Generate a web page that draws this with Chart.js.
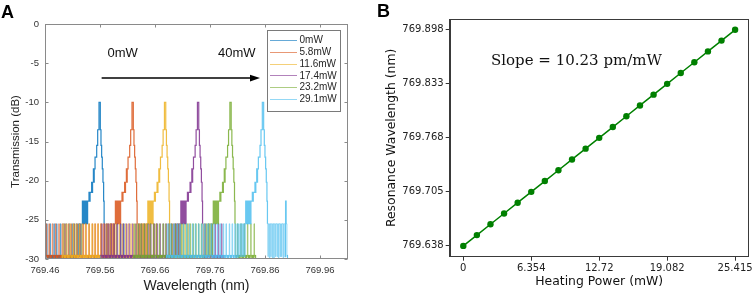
<!DOCTYPE html>
<html><head><meta charset="utf-8">
<script src="https://cdn.jsdelivr.net/npm/chart.js@4.4.0/dist/chart.umd.min.js"></script>
<style>
html,body{margin:0;padding:0;background:#fff;}
#wrap{position:relative;width:754px;height:296px;overflow:hidden;background:#fff;}
canvas{position:absolute;top:0;}
</style>
</head><body>
<div id="wrap"><canvas id="ca" width="377" height="296" style="left:0"></canvas><canvas id="cb" width="377" height="296" style="left:377px"></canvas></div>
<script>
// ---------------- Panel A data ----------------
const powerLabels = ['0mW', '5.8mW', '11.6mW', '17.4mW', '23.2mW', '29.1mW'];
const wavelengthTicks = [769.46, 769.56, 769.66, 769.76, 769.86, 769.96];
const transmissionTicks = [0, -5, -10, -15, -20, -25, -30];

const spec0mW = [
[769.4600,-29.7],
[769.4630,-29.7],[769.4630,-25.5],[769.4640,-29.7],
[769.4690,-29.7],[769.4690,-25.5],[769.4700,-29.7],
[769.4760,-29.7],[769.4760,-25.5],[769.4772,-29.7],
[769.4810,-29.7],[769.4810,-25.5],[769.4820,-29.7],
[769.4880,-29.7],[769.4880,-25.5],[769.4890,-29.7],
[769.4940,-29.7],[769.4940,-25.5],[769.4952,-29.7],
[769.4980,-29.7],[769.4980,-25.5],[769.4990,-29.7],
[769.5040,-29.7],[769.5040,-25.5],[769.5050,-29.7],
[769.5090,-29.7],[769.5090,-25.5],[769.5100,-29.7],
[769.5130,-29.7],[769.5130,-25.5],[769.5140,-29.7],
[769.5170,-29.7],[769.5170,-25.5],[769.5180,-29.7],
[769.5200,-25.5],[769.5210,-29.7],[769.5220,-25.5],[769.5235,-29.7],[769.5245,-25.5],[769.5260,-29.7],[769.5270,-25.5],
[769.5280,-22.6],[769.5290,-25.5],[769.5300,-22.6],[769.5315,-25.5],[769.5325,-22.6],[769.5340,-25.5],[769.5350,-22.6],[769.5370,-25.5],[769.5375,-22.6],
[769.5400,-21.5],[769.5415,-22.6],[769.5420,-21.5],
[769.5448,-20.2],[769.5460,-21.5],[769.5465,-20.2],
[769.5480,-18.5],[769.5490,-20.2],[769.5495,-18.5],
[769.5510,-17.0],[769.5540,-15.5],[769.5558,-13.5],[769.5582,-10.0],
[769.5606,-13.5],[769.5618,-15.5],[769.5630,-17.0],[769.5642,-18.5],[769.5654,-20.2],[769.5666,-22.6],[769.5675,-25.5],[769.5685,-29.7],
[769.5720,-29.7],[769.5720,-25.5],[769.5730,-29.7],
[769.5780,-29.7],[769.5780,-25.5],[769.5790,-29.7],
[769.5850,-29.7],[769.5850,-25.5],[769.5860,-29.7],
[769.5900,-29.7],[769.5900,-25.5],[769.5910,-29.7],
[769.5970,-29.7],[769.5970,-25.5],[769.5980,-29.7],
[769.6030,-29.7],[769.6030,-25.5],[769.6040,-29.7],
[769.6060,-29.7]
];

const spec5p8mW = [
[769.4600,-29.7],
[769.4620,-29.7],[769.4620,-25.5],[769.4630,-29.7],
[769.4670,-29.7],[769.4670,-25.5],[769.4680,-29.7],
[769.4730,-29.7],[769.4730,-25.5],[769.4742,-29.7],
[769.4790,-29.7],[769.4790,-25.5],[769.4800,-29.7],
[769.4850,-29.7],[769.4850,-25.5],[769.4860,-29.7],
[769.4910,-29.7],[769.4910,-25.5],[769.4922,-29.7],
[769.4960,-29.7],[769.4960,-25.5],[769.4970,-29.7],
[769.5020,-29.7],[769.5020,-25.5],[769.5030,-29.7],
[769.5070,-29.7],[769.5070,-25.5],[769.5080,-29.7],
[769.5120,-29.7],[769.5120,-25.5],[769.5132,-29.7],
[769.5180,-29.7],[769.5180,-25.5],[769.5190,-29.7],
[769.5230,-29.7],[769.5230,-25.5],[769.5240,-29.7],
[769.5290,-29.7],[769.5290,-25.5],[769.5300,-29.7],
[769.5340,-29.7],[769.5340,-25.5],[769.5352,-29.7],
[769.5400,-29.7],[769.5400,-25.5],[769.5410,-29.7],
[769.5460,-29.7],[769.5460,-25.5],[769.5470,-29.7],
[769.5510,-29.7],[769.5510,-25.5],[769.5520,-29.7],
[769.5560,-29.7],[769.5560,-25.5],[769.5570,-29.7],
[769.5610,-29.7],[769.5610,-25.5],[769.5622,-29.7],
[769.5660,-29.7],[769.5660,-25.5],[769.5670,-29.7],
[769.5710,-29.7],[769.5710,-25.5],[769.5720,-29.7],
[769.5750,-29.7],[769.5750,-25.5],[769.5760,-29.7],
[769.5780,-25.5],[769.5790,-29.7],[769.5800,-25.5],[769.5815,-29.7],[769.5825,-25.5],[769.5840,-29.7],[769.5850,-25.5],[769.5860,-29.7],[769.5870,-25.5],
[769.5880,-22.6],[769.5890,-25.5],[769.5900,-22.6],[769.5915,-25.5],[769.5925,-22.6],[769.5945,-25.5],[769.5950,-22.6],[769.5970,-25.5],[769.5975,-22.6],
[769.6000,-21.5],[769.6012,-22.6],[769.6018,-21.5],
[769.6048,-20.2],[769.6058,-21.5],[769.6064,-20.2],
[769.6080,-18.5],[769.6090,-20.2],[769.6095,-18.5],
[769.6110,-17.0],[769.6140,-15.5],[769.6158,-13.5],[769.6182,-10.0],
[769.6206,-13.5],[769.6218,-15.5],[769.6230,-17.0],[769.6242,-18.5],[769.6254,-20.2],[769.6266,-22.6],[769.6275,-25.5],[769.6285,-29.7],
[769.6320,-29.7],[769.6320,-25.5],[769.6330,-29.7],
[769.6380,-29.7],[769.6380,-25.5],[769.6390,-29.7],
[769.6440,-29.7],[769.6440,-25.5],[769.6450,-29.7],
[769.6500,-29.7],[769.6500,-25.5],[769.6510,-29.7],
[769.6570,-29.7],[769.6570,-25.5],[769.6580,-29.7],
[769.6620,-29.7],[769.6620,-25.5],[769.6630,-29.7],
[769.6660,-29.7]
];

const spec11p6mW = [
[769.4900,-29.7],
[769.4930,-29.7],[769.4930,-25.5],[769.4940,-29.7],
[769.4990,-29.7],[769.4990,-25.5],[769.5000,-29.7],
[769.5050,-29.7],[769.5050,-25.5],[769.5062,-29.7],
[769.5110,-29.7],[769.5110,-25.5],[769.5120,-29.7],
[769.5160,-29.7],[769.5160,-25.5],[769.5170,-29.7],
[769.5220,-29.7],[769.5220,-25.5],[769.5232,-29.7],
[769.5270,-29.7],[769.5270,-25.5],[769.5280,-29.7],
[769.5330,-29.7],[769.5330,-25.5],[769.5340,-29.7],
[769.5390,-29.7],[769.5390,-25.5],[769.5400,-29.7],
[769.5450,-29.7],[769.5450,-25.5],[769.5462,-29.7],
[769.5500,-29.7],[769.5500,-25.5],[769.5510,-29.7],
[769.5560,-29.7],[769.5560,-25.5],[769.5570,-29.7],
[769.5620,-29.7],[769.5620,-25.5],[769.5630,-29.7],
[769.5680,-29.7],[769.5680,-25.5],[769.5692,-29.7],
[769.5730,-29.7],[769.5730,-25.5],[769.5740,-29.7],
[769.5790,-29.7],[769.5790,-25.5],[769.5800,-29.7],
[769.5840,-29.7],[769.5840,-25.5],[769.5850,-29.7],
[769.5890,-29.7],[769.5890,-25.5],[769.5902,-29.7],
[769.5950,-29.7],[769.5950,-25.5],[769.5960,-29.7],
[769.6000,-29.7],[769.6000,-25.5],[769.6010,-29.7],
[769.6060,-29.7],[769.6060,-25.5],[769.6070,-29.7],
[769.6110,-29.7],[769.6110,-25.5],[769.6122,-29.7],
[769.6160,-29.7],[769.6160,-25.5],[769.6170,-29.7],
[769.6210,-29.7],[769.6210,-25.5],[769.6220,-29.7],
[769.6260,-29.7],[769.6260,-25.5],[769.6270,-29.7],
[769.6310,-29.7],[769.6310,-25.5],[769.6320,-29.7],
[769.6345,-29.7],[769.6345,-25.5],[769.6355,-29.7],
[769.6370,-25.5],[769.6380,-29.7],[769.6390,-25.5],[769.6405,-29.7],[769.6415,-25.5],[769.6430,-29.7],[769.6440,-25.5],[769.6455,-29.7],[769.6460,-25.5],
[769.6470,-22.6],[769.6480,-25.5],[769.6490,-22.6],[769.6505,-25.5],[769.6515,-22.6],[769.6535,-25.5],[769.6540,-22.6],[769.6560,-25.5],[769.6565,-22.6],
[769.6590,-21.5],[769.6602,-22.6],[769.6608,-21.5],
[769.6638,-20.2],[769.6648,-21.5],[769.6654,-20.2],
[769.6670,-18.5],[769.6680,-20.2],[769.6685,-18.5],
[769.6700,-17.0],[769.6730,-15.5],[769.6748,-13.5],[769.6772,-10.0],
[769.6796,-13.5],[769.6808,-15.5],[769.6820,-17.0],[769.6832,-18.5],[769.6844,-20.2],[769.6856,-22.6],[769.6865,-25.5],[769.6875,-29.7],
[769.6910,-29.7],[769.6910,-25.5],[769.6920,-29.7],
[769.6970,-29.7],[769.6970,-25.5],[769.6980,-29.7],
[769.7030,-29.7],[769.7030,-25.5],[769.7040,-29.7],
[769.7090,-29.7],[769.7090,-25.5],[769.7100,-29.7],
[769.7150,-29.7],[769.7150,-25.5],[769.7160,-29.7],
[769.7210,-29.7],[769.7210,-25.5],[769.7220,-29.7],
[769.7250,-29.7]
];

const spec17p4mW = [
[769.5600,-29.7],
[769.5630,-29.7],[769.5630,-25.5],[769.5640,-29.7],
[769.5680,-29.7],[769.5680,-25.5],[769.5690,-29.7],
[769.5740,-29.7],[769.5740,-25.5],[769.5752,-29.7],
[769.5800,-29.7],[769.5800,-25.5],[769.5810,-29.7],
[769.5850,-29.7],[769.5850,-25.5],[769.5860,-29.7],
[769.5910,-29.7],[769.5910,-25.5],[769.5922,-29.7],
[769.5970,-29.7],[769.5970,-25.5],[769.5980,-29.7],
[769.6020,-29.7],[769.6020,-25.5],[769.6030,-29.7],
[769.6080,-29.7],[769.6080,-25.5],[769.6090,-29.7],
[769.6130,-29.7],[769.6130,-25.5],[769.6142,-29.7],
[769.6190,-29.7],[769.6190,-25.5],[769.6200,-29.7],
[769.6250,-29.7],[769.6250,-25.5],[769.6260,-29.7],
[769.6300,-29.7],[769.6300,-25.5],[769.6310,-29.7],
[769.6350,-29.7],[769.6350,-25.5],[769.6362,-29.7],
[769.6410,-29.7],[769.6410,-25.5],[769.6420,-29.7],
[769.6470,-29.7],[769.6470,-25.5],[769.6480,-29.7],
[769.6520,-29.7],[769.6520,-25.5],[769.6530,-29.7],
[769.6580,-29.7],[769.6580,-25.5],[769.6592,-29.7],
[769.6640,-29.7],[769.6640,-25.5],[769.6650,-29.7],
[769.6690,-29.7],[769.6690,-25.5],[769.6700,-29.7],
[769.6750,-29.7],[769.6750,-25.5],[769.6760,-29.7],
[769.6800,-29.7],[769.6800,-25.5],[769.6812,-29.7],
[769.6850,-29.7],[769.6850,-25.5],[769.6860,-29.7],
[769.6900,-29.7],[769.6900,-25.5],[769.6910,-29.7],
[769.6940,-29.7],[769.6940,-25.5],[769.6950,-29.7],
[769.6970,-25.5],[769.6980,-29.7],[769.6990,-25.5],[769.7005,-29.7],[769.7015,-25.5],[769.7030,-29.7],[769.7040,-25.5],[769.7055,-29.7],[769.7060,-25.5],
[769.7070,-22.6],[769.7080,-25.5],[769.7090,-22.6],[769.7105,-25.5],[769.7115,-22.6],[769.7135,-25.5],[769.7140,-22.6],[769.7160,-25.5],[769.7165,-22.6],
[769.7190,-21.5],[769.7202,-22.6],[769.7208,-21.5],
[769.7238,-20.2],[769.7248,-21.5],[769.7254,-20.2],
[769.7270,-18.5],[769.7280,-20.2],[769.7285,-18.5],
[769.7300,-17.0],[769.7330,-15.5],[769.7348,-13.5],[769.7372,-10.0],
[769.7396,-13.5],[769.7408,-15.5],[769.7420,-17.0],[769.7432,-18.5],[769.7444,-20.2],[769.7456,-22.6],[769.7465,-25.5],[769.7475,-29.7],
[769.7510,-29.7],[769.7510,-25.5],[769.7520,-29.7],
[769.7570,-29.7],[769.7570,-25.5],[769.7580,-29.7],
[769.7630,-29.7],[769.7630,-25.5],[769.7640,-29.7],
[769.7690,-29.7],[769.7690,-25.5],[769.7700,-29.7],
[769.7750,-29.7],[769.7750,-25.5],[769.7760,-29.7],
[769.7810,-29.7],[769.7810,-25.5],[769.7820,-29.7],
[769.7850,-29.7]
];

const spec23p2mW = [
[769.6200,-29.7],
[769.6230,-29.7],[769.6230,-25.5],[769.6240,-29.7],
[769.6290,-29.7],[769.6290,-25.5],[769.6300,-29.7],
[769.6340,-29.7],[769.6340,-25.5],[769.6352,-29.7],
[769.6400,-29.7],[769.6400,-25.5],[769.6410,-29.7],
[769.6460,-29.7],[769.6460,-25.5],[769.6470,-29.7],
[769.6510,-29.7],[769.6510,-25.5],[769.6522,-29.7],
[769.6570,-29.7],[769.6570,-25.5],[769.6580,-29.7],
[769.6620,-29.7],[769.6620,-25.5],[769.6630,-29.7],
[769.6680,-29.7],[769.6680,-25.5],[769.6690,-29.7],
[769.6740,-29.7],[769.6740,-25.5],[769.6752,-29.7],
[769.6790,-29.7],[769.6790,-25.5],[769.6800,-29.7],
[769.6850,-29.7],[769.6850,-25.5],[769.6860,-29.7],
[769.6900,-29.7],[769.6900,-25.5],[769.6910,-29.7],
[769.6960,-29.7],[769.6960,-25.5],[769.6972,-29.7],
[769.7010,-29.7],[769.7010,-25.5],[769.7020,-29.7],
[769.7070,-29.7],[769.7070,-25.5],[769.7080,-29.7],
[769.7120,-29.7],[769.7120,-25.5],[769.7130,-29.7],
[769.7180,-29.7],[769.7180,-25.5],[769.7192,-29.7],
[769.7240,-29.7],[769.7240,-25.5],[769.7250,-29.7],
[769.7290,-29.7],[769.7290,-25.5],[769.7300,-29.7],
[769.7340,-29.7],[769.7340,-25.5],[769.7350,-29.7],
[769.7390,-29.7],[769.7390,-25.5],[769.7402,-29.7],
[769.7440,-29.7],[769.7440,-25.5],[769.7450,-29.7],
[769.7490,-29.7],[769.7490,-25.5],[769.7500,-29.7],
[769.7530,-29.7],[769.7530,-25.5],[769.7540,-29.7],
[769.7560,-25.5],[769.7570,-29.7],[769.7580,-25.5],[769.7595,-29.7],[769.7605,-25.5],[769.7620,-29.7],[769.7630,-25.5],[769.7645,-29.7],[769.7650,-25.5],
[769.7660,-22.6],[769.7670,-25.5],[769.7680,-22.6],[769.7695,-25.5],[769.7705,-22.6],[769.7725,-25.5],[769.7730,-22.6],[769.7750,-25.5],[769.7755,-22.6],
[769.7780,-21.5],[769.7792,-22.6],[769.7798,-21.5],
[769.7828,-20.2],[769.7838,-21.5],[769.7844,-20.2],
[769.7860,-18.5],[769.7870,-20.2],[769.7875,-18.5],
[769.7890,-17.0],[769.7920,-15.5],[769.7938,-13.5],[769.7962,-10.0],
[769.7986,-13.5],[769.7998,-15.5],[769.8010,-17.0],[769.8022,-18.5],[769.8034,-20.2],[769.8046,-22.6],[769.8055,-25.5],[769.8065,-29.7],
[769.8100,-29.7],[769.8100,-25.5],[769.8110,-29.7],
[769.8160,-29.7],[769.8160,-25.5],[769.8170,-29.7],
[769.8220,-29.7],[769.8220,-25.5],[769.8230,-29.7],
[769.8280,-29.7],[769.8280,-25.5],[769.8290,-29.7],
[769.8340,-29.7],[769.8340,-25.5],[769.8350,-29.7],
[769.8400,-29.7],[769.8400,-25.5],[769.8410,-29.7],
[769.8440,-29.7]
];

const spec29p1mW = [
[769.6800,-29.7],
[769.6830,-29.7],[769.6830,-25.5],[769.6840,-29.7],
[769.6880,-29.7],[769.6880,-25.5],[769.6890,-29.7],
[769.6940,-29.7],[769.6940,-25.5],[769.6952,-29.7],
[769.7000,-29.7],[769.7000,-25.5],[769.7010,-29.7],
[769.7050,-29.7],[769.7050,-25.5],[769.7060,-29.7],
[769.7110,-29.7],[769.7110,-25.5],[769.7122,-29.7],
[769.7170,-29.7],[769.7170,-25.5],[769.7180,-29.7],
[769.7220,-29.7],[769.7220,-25.5],[769.7230,-29.7],
[769.7280,-29.7],[769.7280,-25.5],[769.7290,-29.7],
[769.7330,-29.7],[769.7330,-25.5],[769.7342,-29.7],
[769.7390,-29.7],[769.7390,-25.5],[769.7400,-29.7],
[769.7450,-29.7],[769.7450,-25.5],[769.7460,-29.7],
[769.7500,-29.7],[769.7500,-25.5],[769.7510,-29.7],
[769.7560,-29.7],[769.7560,-25.5],[769.7572,-29.7],
[769.7620,-29.7],[769.7620,-25.5],[769.7630,-29.7],
[769.7670,-29.7],[769.7670,-25.5],[769.7680,-29.7],
[769.7730,-29.7],[769.7730,-25.5],[769.7740,-29.7],
[769.7780,-29.7],[769.7780,-25.5],[769.7792,-29.7],
[769.7840,-29.7],[769.7840,-25.5],[769.7850,-29.7],
[769.7890,-29.7],[769.7890,-25.5],[769.7900,-29.7],
[769.7950,-29.7],[769.7950,-25.5],[769.7960,-29.7],
[769.8000,-29.7],[769.8000,-25.5],[769.8012,-29.7],
[769.8050,-29.7],[769.8050,-25.5],[769.8060,-29.7],
[769.8090,-29.7],[769.8090,-25.5],[769.8100,-29.7],
[769.8120,-29.7],[769.8120,-25.5],[769.8130,-29.7],
[769.8150,-25.5],[769.8160,-29.7],[769.8170,-25.5],[769.8185,-29.7],[769.8195,-25.5],[769.8210,-29.7],[769.8220,-25.5],[769.8235,-29.7],[769.8240,-25.5],
[769.8250,-22.6],[769.8260,-25.5],[769.8270,-22.6],[769.8285,-25.5],[769.8295,-22.6],[769.8315,-25.5],[769.8320,-22.6],[769.8340,-25.5],[769.8345,-22.6],
[769.8370,-21.5],[769.8382,-22.6],[769.8388,-21.5],
[769.8418,-20.2],[769.8428,-21.5],[769.8434,-20.2],
[769.8450,-18.5],[769.8460,-20.2],[769.8465,-18.5],
[769.8480,-17.0],[769.8510,-15.5],[769.8528,-13.5],[769.8552,-10.0],
[769.8576,-13.5],[769.8588,-15.5],[769.8600,-17.0],[769.8612,-18.5],[769.8624,-20.2],[769.8636,-22.6],[769.8645,-25.5],[769.8655,-29.7],
[769.8660,-25.5],[769.8680,-30.3],[769.8690,-25.5],[769.8705,-29.7],[769.8715,-25.5],[769.8735,-30.3],[769.8745,-25.5],[769.8760,-30.3],
[769.8770,-25.5],[769.8790,-29.7],[769.8800,-25.5],[769.8820,-29.7],[769.8830,-25.5],[769.8845,-30.3],[769.8855,-25.5],[769.8875,-29.7],
[769.8885,-25.5],[769.8900,-29.7],[769.8910,-25.5],[769.8930,-30.3],[769.8940,-25.5],[769.8960,-29.7],[769.8975,-22.6],[769.8985,-25.5],
[769.9000,-29.7],[769.9020,-29.7]
];

// ---------------- Panel B data ----------------
const heatingPower = [0, 1.271, 2.542, 3.812, 5.083, 6.354, 7.625, 8.896, 10.166, 11.437, 12.708,
  13.979, 15.249, 16.52, 17.791, 19.062, 20.333, 21.603, 22.874, 24.145, 25.415];
const resonanceWavelength = [769.638, 769.651, 769.664, 769.677, 769.690, 769.703, 769.716, 769.729, 769.742, 769.755, 769.768,
  769.781, 769.794, 769.807, 769.820, 769.833, 769.846, 769.859, 769.872, 769.885, 769.898];
const powerTickValues = [0, 6.354, 12.708, 19.061, 25.415];
const powerTickLabels = ['0', '6.354', '12.72', '19.082', '25.415'];
const resTickValues = [769.638, 769.703, 769.768, 769.833, 769.898];
const resTickLabels = ['769.638', '769.705', '769.768', '769.833', '769.898'];

// ---------------- styles ----------------
const spectra = [spec0mW, spec5p8mW, spec11p6mW, spec17p4mW, spec23p2mW, spec29p1mW];
const lineColors = [[0,114,189],[217,83,25],[237,177,32],[126,47,142],[119,172,48],[77,190,238]];
const rgba = (c, a) => `rgba(${c[0]},${c[1]},${c[2]},${a})`;
const SANS = '"Liberation Sans", Arial, Helvetica, sans-serif';
const DJ = '"DejaVu Sans", sans-serif';

const isFloorSeg = c => c.p0.parsed.y <= -29 && c.p1.parsed.y <= -29;
const isPeakSeg = c => Math.max(c.p0.parsed.y, c.p1.parsed.y) > -25;

const decorA = {
  id: 'decorA',
  afterDraw(chart) {
    const {ctx, chartArea: ca, scales: {x, y}} = chart;
    ctx.save();
    const L = Math.round(ca.left) + 0.5, R = Math.round(ca.right) - 0.5;
    const T = Math.round(ca.top) + 0.5, B = Math.round(ca.bottom) - 0.5;
    ctx.strokeStyle = '#8a8a8a';
    ctx.lineWidth = 1;
    ctx.strokeRect(L, T, R - L, B - T);
    ctx.beginPath();
    x.ticks.forEach(t => {
      const px = Math.round(x.getPixelForValue(t.value)) + 0.5;
      ctx.moveTo(px, B); ctx.lineTo(px, B - 3);
      ctx.moveTo(px, T); ctx.lineTo(px, T + 3);
    });
    y.ticks.forEach(t => {
      const py = Math.round(y.getPixelForValue(t.value)) + 0.5;
      ctx.moveTo(L, py); ctx.lineTo(L + 3, py);
      ctx.moveTo(R, py); ctx.lineTo(R - 3, py);
    });
    ctx.stroke();

    // arrow annotation
    const ax0 = x.getPixelForValue(769.563), ax1 = x.getPixelForValue(769.851), ay = y.getPixelForValue(-6.9);
    ctx.strokeStyle = '#000'; ctx.fillStyle = '#000'; ctx.lineWidth = 1.4;
    ctx.beginPath(); ctx.moveTo(ax0, ay); ctx.lineTo(ax1 - 8, ay); ctx.stroke();
    ctx.beginPath(); ctx.moveTo(ax1, ay); ctx.lineTo(ax1 - 10, ay - 3.4); ctx.lineTo(ax1 - 10, ay + 3.4); ctx.closePath(); ctx.fill();
    ctx.font = '13px ' + SANS; ctx.textBaseline = 'middle'; ctx.textAlign = 'left'; ctx.fillStyle = '#111';
    ctx.fillText('0mW', x.getPixelForValue(769.5736), y.getPixelForValue(-3.74));
    ctx.fillText('40mW', x.getPixelForValue(769.7747), y.getPixelForValue(-3.74));

    // legend box
    const lx0 = 267.5, ly0 = 30.5, lx1 = 340.5, ly1 = 111.5;
    ctx.fillStyle = '#fff';
    ctx.fillRect(lx0, ly0, lx1 - lx0, ly1 - ly0);
    ctx.strokeStyle = '#7a7a7a'; ctx.lineWidth = 1;
    ctx.strokeRect(lx0, ly0, lx1 - lx0, ly1 - ly0);
    ctx.font = '10px ' + SANS; ctx.fillStyle = '#262626';
    chart.data.datasets.forEach((ds, i) => {
      const ry = 40 + i * 11.8;
      ctx.strokeStyle = rgba(lineColors[i], 0.6); ctx.lineWidth = 1;
      ctx.beginPath(); ctx.moveTo(270, Math.round(ry) + 0.5); ctx.lineTo(297, Math.round(ry) + 0.5); ctx.stroke();
      ctx.fillText(ds.label, 299.5, ry + 0.5);
    });

    // panel letter
    ctx.font = 'bold 18px ' + SANS; ctx.fillStyle = '#000'; ctx.textBaseline = 'alphabetic';
    ctx.fillText('A', 1, 18);
    ctx.restore();
  }
};

new Chart(document.getElementById('ca'), {
  type: 'line',
  data: {
    datasets: spectra.map((s, i) => ({
      label: powerLabels[i],
      data: s.map(p => ({x: p[0], y: p[1]})),
      borderColor: rgba(lineColors[i], 0.7),
      borderWidth: 1,
      stepped: true,
      pointRadius: 0,
      fill: false,
      order: spectra.length - i,
      segment: {
        borderWidth: c => isFloorSeg(c) ? 3.5 : (isPeakSeg(c) ? 1.2 : 1),
        borderColor: c => isFloorSeg(c) ? rgba(lineColors[i], 0.9) : (isPeakSeg(c) ? rgba(lineColors[i], 0.85) : rgba(lineColors[i], 0.55))
      }
    }))
  },
  options: {
    responsive: false, animation: false, events: [],
    layout: {padding: {left: 0, right: 29, top: 24, bottom: 0}},
    plugins: {legend: {display: false}, tooltip: {enabled: false}},
    scales: {
      x: {
        type: 'linear', min: 769.46, max: 770.011,
        afterBuildTicks: s => { s.ticks = wavelengthTicks.map(v => ({value: v})); },
        ticks: {callback: v => v.toFixed(2), color: '#333', font: {family: SANS, size: 9.5}, padding: 6, maxRotation: 0, autoSkip: false},
        grid: {display: false, drawTicks: false}, border: {display: false},
        title: {display: true, text: 'Wavelength (nm)', color: '#222', font: {family: SANS, size: 14}, padding: {top: 0, bottom: 1}},
        afterFit: s => { s.height = 37; s.paddingLeft = 0; s.paddingRight = 0; }
      },
      y: {
        type: 'linear', min: -30, max: 0,
        afterBuildTicks: s => { s.ticks = transmissionTicks.map(v => ({value: v})); },
        ticks: {callback: v => String(v), color: '#333', font: {family: SANS, size: 9.5}, padding: 6, autoSkip: false},
        grid: {display: false, drawTicks: false}, border: {display: false},
        title: {display: true, text: 'Transmission (dB)', color: '#222', font: {family: SANS, size: 11.5}, padding: {top: 9, bottom: 0}},
        afterFit: s => { s.width = 45; s.paddingTop = 0; s.paddingBottom = 0; }
      }
    }
  },
  plugins: [decorA]
});

const decorB = {
  id: 'decorB',
  afterDraw(chart) {
    const {ctx, chartArea: ca, scales: {x, y}} = chart;
    ctx.save();
    const L = Math.round(ca.left) + 0.5, R = Math.round(ca.right) - 0.5;
    const T = Math.round(ca.top) + 0.5, B = Math.round(ca.bottom) - 0.5;
    ctx.strokeStyle = '#3a3a3a'; ctx.lineWidth = 1;
    ctx.strokeRect(L, T, R - L, B - T);
    ctx.font = '15px "DejaVu Serif", serif'; ctx.fillStyle = '#111';
    ctx.textBaseline = 'middle'; ctx.textAlign = 'left';
    ctx.fillText('Slope = 10.23 pm/mW', x.getPixelForValue(2.59), y.getPixelForValue(769.8598));
    ctx.font = 'bold 18px ' + SANS; ctx.fillStyle = '#000'; ctx.textBaseline = 'alphabetic';
    ctx.fillText('B', 0, 16.5);
    ctx.restore();
  }
};

new Chart(document.getElementById('cb'), {
  type: 'line',
  data: {
    datasets: [{
      label: 'Resonance',
      data: heatingPower.map((p, i) => ({x: p, y: resonanceWavelength[i]})),
      borderColor: '#008000', backgroundColor: '#008000',
      borderWidth: 1.5, pointRadius: 3.2, pointBorderWidth: 0, pointBackgroundColor: '#008000',
      tension: 0, fill: false
    }]
  },
  options: {
    responsive: false, animation: false, events: [],
    layout: {padding: {left: 0, right: 5.3, top: 19, bottom: 0}},
    plugins: {legend: {display: false}, tooltip: {enabled: false}},
    scales: {
      x: {
        type: 'linear', min: -1.271, max: 26.686,
        afterBuildTicks: s => { s.ticks = powerTickValues.map(v => ({value: v})); },
        ticks: {callback: (v, i) => powerTickLabels[i], color: '#222', font: {family: DJ, size: 10}, padding: 2, maxRotation: 0, autoSkip: false},
        grid: {drawOnChartArea: false, drawTicks: true, tickLength: 4, color: '#333', tickColor: '#333', tickWidth: 1},
        border: {display: true, color: '#3a3a3a', width: 1},
        title: {display: true, text: 'Heating Power (mW)', color: '#111', font: {family: DJ, size: 12.4}, padding: {top: 0, bottom: 7}},
        afterFit: s => { s.height = 39.3; s.paddingLeft = 0; s.paddingRight = 0; }
      },
      y: {
        type: 'linear', min: 769.625, max: 769.911,
        afterBuildTicks: s => { s.ticks = resTickValues.map(v => ({value: v})); },
        ticks: {callback: (v, i) => resTickLabels[i], color: '#222', font: {family: DJ, size: 10}, padding: 2, autoSkip: false},
        grid: {drawOnChartArea: false, drawTicks: true, tickLength: 4, color: '#333', tickColor: '#333', tickWidth: 1},
        border: {display: true, color: '#3a3a3a', width: 1},
        title: {display: true, text: 'Resonance Wavelength (nm)', color: '#111', font: {family: DJ, size: 12.4}, padding: {top: 7.6, bottom: 0}},
        afterFit: s => { s.width = 72.7; s.paddingTop = 0; s.paddingBottom = 0; }
      }
    }
  },
  plugins: [decorB]
});
</script>
</body></html>
